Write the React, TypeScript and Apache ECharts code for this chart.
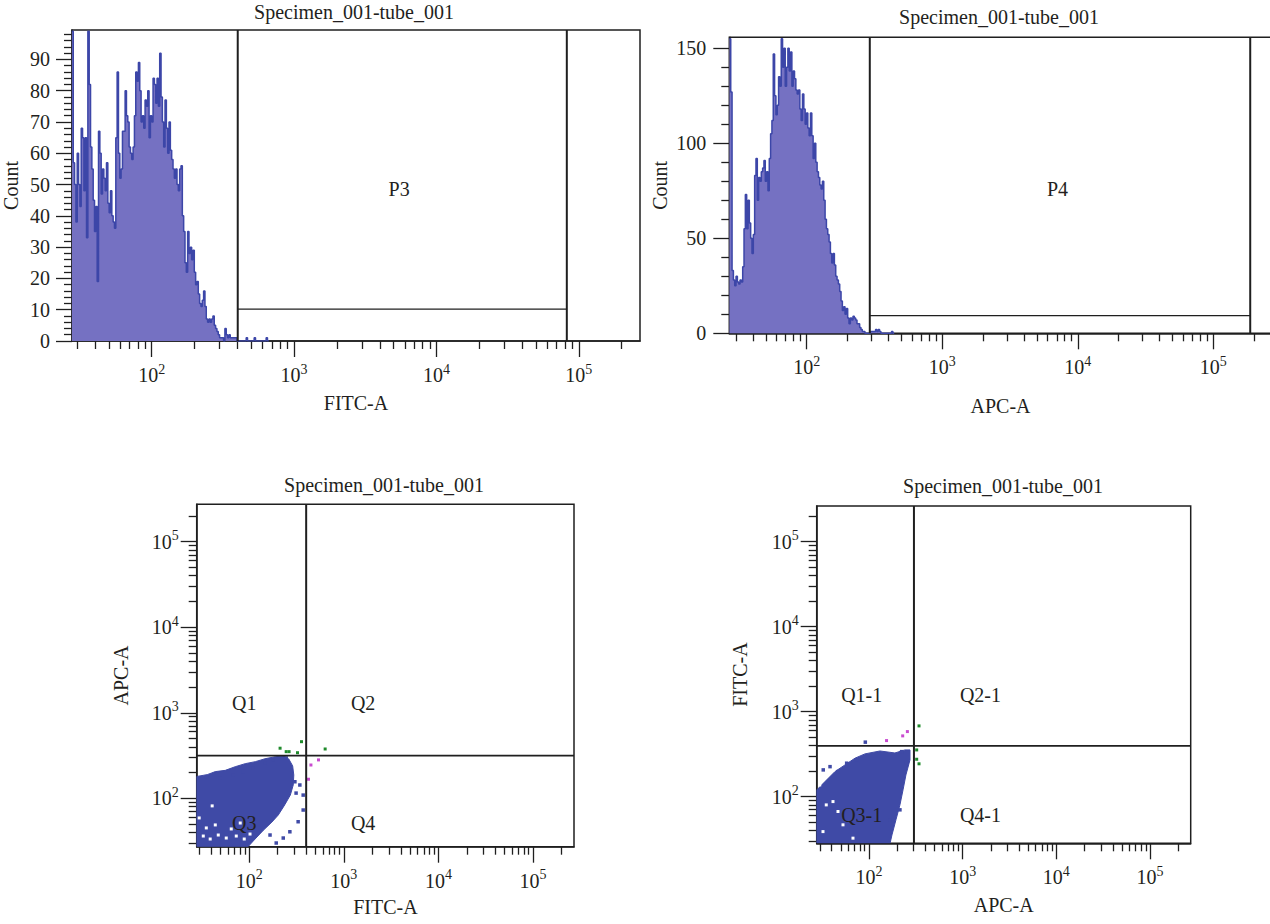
import React, { useEffect, useRef } from "react";
import * as echarts from "echarts";

const FONT = '"Liberation Serif", "Times New Roman", "DejaVu Serif", serif';
const TEXT = "#231f20";
const LINE = "#1f1f1f";
const FILL = "#7571c2";
const EDGE = "#3c46a8";
const DOT = "#3f4aa6";
const GREEN = "#1f8a2b";
const MAGENTA = "#c94bd0";

const panelTitle = "Specimen_001-tube_001";
const fitcName = "FITC-A";
const apcName = "APC-A";
const countName = "Count";

// ---------- histogram data (counts per channel) ----------
const fitcHistFirstChannel = 27.5;
const fitcHistChannelsPerDecade = 107;
const fitcHistCounts = [
  99, 57, 50, 38, 60, 50, 43, 68, 65, 48,
  65, 33, 99, 82, 62, 55, 45, 35, 43, 19,
  67, 60, 47, 55, 52, 48, 57, 44, 41, 48,
  40, 38, 36, 65, 86, 60, 52, 55, 67, 67,
  80, 72, 70, 62, 60, 58, 62, 72, 86, 83,
  89, 80, 70, 72, 68, 77, 75, 80, 65, 72,
  70, 84, 82, 76, 84, 75, 92, 78, 70, 62,
  77, 68, 60, 70, 61, 58, 55, 52, 55, 50,
  48, 55, 56, 40, 35, 25, 22, 35, 28, 30,
  26, 29, 22, 18, 19, 15, 12, 11, 13, 16,
  11, 7, 6, 7, 6, 7, 8, 5, 4, 3,
  2, 1, 1, 1, 0, 4, 2, 1, 2, 1,
  1, 1, 1, 1, 0, 0, 0, 0, 0, 0,
  0, 1, 0, 0, 0, 0, 0, 1, 0, 0,
  0, 0, 0, 0, 0, 0, 1, 0,
];

const apcHistFirstChannel = 26.9;
const apcHistChannelsPerDecade = 102;
const apcHistCounts = [
  155, 127, 33, 28, 25, 30, 27, 26, 28, 27,
  35, 55, 73, 55, 70, 58, 50, 42, 52, 83,
  92, 70, 82, 80, 85, 87, 91, 80, 85, 75,
  92, 105, 112, 147, 125, 115, 120, 135, 130, 155,
  140, 150, 130, 140, 150, 138, 148, 130, 138, 134,
  128, 126, 128, 118, 112, 126, 118, 110, 116, 108,
  104, 116, 104, 92, 100, 90, 85, 82, 78, 76,
  80, 70, 60, 55, 52, 48, 42, 37, 42, 36,
  30, 28, 26, 22, 17, 12, 14, 10, 13, 8,
  5, 8, 7, 9, 8, 7, 5, 5, 3, 2,
  1, 1, 0, 0, 0, 0, 1, 1, 1, 1,
  2, 1, 2, 1, 0, 0, 0, 0, 0, 0,
  0, 0, 1, 0,
];

// gates: [low edge, high edge, count level]
const p3Gate = [402, 82400, 10.2];
const p4Gate = [292, 187000, 9.3];
// gate labels: [text, intensity, count]
const p3Label: [string, number, number] = ["P3", 5470, 48.6];
const p4Label: [string, number, number] = ["P4", 7075, 75.9];

// ---------- dot plot 1: FITC-A (x) vs APC-A (y) ----------
const quadSplitFitcApc = [400, 315];
const fitcApcCore: [number, number][] = [
  [28, 27.3], [97.6, 27.3], [118, 34.3], [142, 42.6], [174, 52.8], [203, 63.8],
  [237, 83.6], [272, 109], [292, 143], [296, 187], [288, 239], [262, 288],
  [232, 312], [188, 306], [147, 290], [116, 268], [90.7, 254], [71.1, 234],
  [55.8, 212], [43.8, 205], [36, 189], [28, 180],
];
const fitcApcSparse: [number, number][] = [
  [372, 109], [343, 143], [304, 156], [372, 72.9], [329, 53.2], [269, 40.6],
  [229, 34.3], [193, 30], [166, 37.2], [179, 281], [147, 259], [110, 226],
  [86.5, 205], [67.8, 187], [49.1, 173], [35.2, 179], [246, 296], [313, 115],
];
const fitcApcGaps: [number, number][] = [
  [32.7, 36.2], [38.7, 33.4], [47.1, 37.2], [57.2, 34.3], [73, 36.2], [88.6, 33.4],
  [102, 38.2], [35.2, 45], [64.6, 43.8], [43.8, 48.8], [29.6, 58.9], [40.6, 81.5],
  [80.4, 51.4],
];
const fitcApcGreen: [number, number][] = [
  [212, 385], [246, 351], [264, 351], [324, 341], [357, 459], [635, 377],
];
const fitcApcMagenta: [number, number][] = [[449, 245], [540, 281], [423, 167]];
const fitcApcQuadLabels: [string, number, number][] = [
  ["Q1", 88.6, 1303], ["Q2", 1600, 1303], ["Q3", 88.6, 51.4], ["Q4", 1600, 51.4],
];

// ---------- dot plot 2: APC-A (x) vs FITC-A (y) ----------
const quadSplitApcFitc = [302, 395];
const apcFitcCore: [number, number][] = [
  [27.8, 28.3], [168, 28.3], [176, 35.4], [194, 53.2], [214, 79.8], [231, 120],
  [248, 180], [274, 270], [274, 354], [242, 354], [189, 326], [131, 344],
  [90.6, 318], [70.9, 283], [55.5, 236], [43.4, 197], [33.9, 150], [27.8, 120],
];
const apcFitcSparse: [number, number][] = [
  [91.4, 437], [38.4, 225], [32.5, 206], [46.7, 197], [74, 270], [57.8, 247],
  [223, 338], [252, 247], [214, 69.8], [168, 53.2],
];
const apcFitcGaps: [number, number][] = [
  [29.8, 137], [41.3, 87.3], [46.7, 66.7], [35, 79.8], [32.3, 38.7], [52.8, 46.5],
  [67.5, 32.4],
];
const apcFitcGreen: [number, number][] = [[342, 679], [323, 354], [323, 275], [342, 243]];
const apcFitcMagenta: [number, number][] = [[154, 456], [229, 518], [257, 582]];
const apcFitcQuadLabels: [string, number, number][] = [
  ["Q1-1", 83.6, 1571], ["Q2-1", 1549, 1571], ["Q3-1", 83.6, 61], ["Q4-1", 1549, 61],
];

// ---------- ticks ----------
const decadeTicks = [2, 3, 4, 5];
const decadeMinorSteps = [2, 3, 4, 5, 6, 7, 8, 9];
const countTicksFitc = [0, 10, 20, 30, 40, 50, 60, 70, 80, 90];
const countTicksApc = [0, 50, 100, 150];

// ---------- layout ----------
const panels = [
  { left: 72, top: 30, width: 568, height: 311, x: [1.44, 5.43], y: [0, 99.4] },
  { left: 729.3, top: 37.3, width: 542.5, height: 296, x: [1.429, 5.431], y: [0, 155.8] },
  { left: 196.7, top: 504.3, width: 377.3, height: 342.4, x: [1.445, 5.433], y: [1.434, 5.437] },
  { left: 816.7, top: 506, width: 374, height: 337.3, x: [1.442, 5.434], y: [1.45, 5.42] },
];
const titlePos = [[354, 12], [999, 17], [384, 485], [1003, 486]];

const lg = (v: number) => Math.log10(v);
const P = (pair: [number, number]) => [lg(pair[0]), lg(pair[1])];

const supRich = {
  b: { fontSize: 20, fontFamily: FONT, color: TEXT, lineHeight: 26 },
  s: { fontSize: 14, fontFamily: FONT, color: TEXT, lineHeight: 12, verticalAlign: "top" },
};
const supFormatter = (v: number) => `{b|10}{s|${Math.round(v)}}`;

function minorLogTicks(range: number[]) {
  const out: number[] = [];
  for (let d = 0; d <= 5; d++) {
    for (const k of decadeMinorSteps) {
      const v = lg(k) + d;
      if (v > range[0] && v < range[1]) out.push(v);
    }
  }
  return out;
}

function minorLinearTicks(majors: number[], step: number, max: number) {
  const out: number[] = [];
  for (let v = step; v < max; v += step) {
    if (!majors.some((m) => Math.abs(m - v) < 1e-6)) out.push(Math.round(v * 1000) / 1000);
  }
  return out;
}

const nameStyle = { fontSize: 20, fontFamily: FONT, color: TEXT };

function axisPair(
  dim: "x" | "y",
  gridIndex: number,
  range: number[],
  log: boolean,
  majors: number[],
  minors: number[],
  name: string,
  nameGap: number,
  labelMargin: number
) {
  const position = dim === "x" ? "bottom" : "left";
  const base = {
    type: "value",
    gridIndex,
    min: range[0],
    max: range[1],
    position,
    splitLine: { show: false },
    minorTick: { show: false },
    minorSplitLine: { show: false },
  };
  const major = {
    ...base,
    name,
    nameLocation: "middle",
    nameGap,
    nameRotate: dim === "y" ? 90 : 0,
    nameMoveOverlap: false,
    nameTextStyle: nameStyle,
    axisLine: { show: true, onZero: false, lineStyle: { color: LINE, width: 1.5 } },
    axisTick: {
      show: true,
      inside: false,
      length: 16,
      customValues: majors,
      lineStyle: { color: LINE, width: 1.3 },
    },
    axisLabel: log
      ? {
          show: true,
          customValues: majors,
          margin: labelMargin,
          formatter: supFormatter,
          rich: supRich,
          hideOverlap: false,
        }
      : {
          show: true,
          customValues: majors,
          margin: labelMargin,
          fontSize: 20,
          fontFamily: FONT,
          color: TEXT,
          hideOverlap: false,
        },
  };
  const minor = {
    ...base,
    axisLine: { show: false, onZero: false },
    axisTick: {
      show: true,
      inside: false,
      length: 8,
      customValues: minors,
      lineStyle: { color: LINE, width: 1.3 },
    },
    axisLabel: { show: false },
  };
  return [major, minor];
}

function histData(first: number, perDecade: number, counts: number[]) {
  const start = lg(first);
  const pts = counts.map((c, i) => [start + i / perDecade, c]);
  pts.push([start + counts.length / perDecade, counts[counts.length - 1]]);
  return pts;
}

function segment(g: number, a: number[], b: number[], width: number) {
  return {
    type: "line",
    xAxisIndex: 2 * g,
    yAxisIndex: 2 * g,
    data: [a, b],
    symbol: "none",
    silent: true,
    lineStyle: { color: LINE, width },
    z: 5,
  };
}

function labelSeries(g: number, items: [string, number, number][], logY: boolean) {
  return {
    type: "custom",
    xAxisIndex: 2 * g,
    yAxisIndex: 2 * g,
    coordinateSystem: "cartesian2d",
    silent: true,
    z: 10,
    data: items.map(([, x, y]) => [lg(x), logY ? lg(y) : y]),
    renderItem: (params: any, api: any) => {
      const it = items[params.dataIndex];
      const pt = api.coord([lg(it[1]), logY ? lg(it[2]) : it[2]]);
      return {
        type: "text",
        x: pt[0],
        y: pt[1],
        style: {
          text: it[0],
          fill: TEXT,
          fontSize: 20,
          fontFamily: FONT,
          align: "center",
          verticalAlign: "middle",
        },
      };
    },
  };
}

function coreSeries(g: number, verts: [number, number][]) {
  return {
    type: "custom",
    xAxisIndex: 2 * g,
    yAxisIndex: 2 * g,
    coordinateSystem: "cartesian2d",
    clip: true,
    silent: true,
    z: 2,
    data: verts.map(P),
    renderItem: (params: any, api: any) => {
      if (params.dataIndex !== 0) return null;
      const pts = verts.map((v) => api.coord(P(v)));
      return {
        type: "polygon",
        shape: { points: pts },
        style: { fill: DOT, stroke: DOT, lineWidth: 1 },
      };
    },
  };
}

function dotSeries(g: number, pts: [number, number][], color: string, size: number, z: number) {
  return {
    type: "scatter",
    xAxisIndex: 2 * g,
    yAxisIndex: 2 * g,
    symbol: "rect",
    symbolSize: size,
    silent: true,
    z,
    itemStyle: { color, opacity: 1 },
    data: pts.map(P),
  };
}

function quadLines(g: number, split: number[]) {
  const pr = panels[g];
  const sx = lg(split[0]);
  const sy = lg(split[1]);
  return [
    segment(g, [sx, pr.y[0]], [sx, pr.y[1]], 2),
    segment(g, [pr.x[0], sy], [pr.x[1], sy], 1.6),
  ];
}

function gateLines(g: number, gate: number[]) {
  const pr = panels[g];
  const lo = lg(gate[0]);
  const hi = lg(gate[1]);
  return [
    segment(g, [lo, 0], [lo, pr.y[1]], 2),
    segment(g, [hi, 0], [hi, pr.y[1]], 2),
    segment(g, [lo, gate[2]], [hi, gate[2]], 1.3),
  ];
}

function buildOption() {
  const xAxes: any[] = [];
  const yAxes: any[] = [];
  const xNames = [fitcName, apcName, fitcName, apcName];
  const yNames = [countName, countName, apcName, fitcName];
  const xGaps = [52, 63, 50, 52];
  const yGaps = [51, 59, 66, 67];
  const yMargins = [22, 23, 18, 18];
  panels.forEach((p, g) => {
    xAxes.push(
      ...axisPair("x", g, p.x, true, decadeTicks, minorLogTicks(p.x), xNames[g], xGaps[g], 21)
    );
    if (g < 2) {
      const majors = g === 0 ? countTicksFitc : countTicksApc;
      const minors = g === 0 ? minorLinearTicks(majors, 2, p.y[1]) : minorLinearTicks(majors, 10, p.y[1]);
      yAxes.push(...axisPair("y", g, p.y, false, majors, minors, yNames[g], yGaps[g], yMargins[g]));
    } else {
      yAxes.push(
        ...axisPair("y", g, p.y, true, decadeTicks, minorLogTicks(p.y), yNames[g], yGaps[g], yMargins[g])
      );
    }
  });

  const histStyle = (g: number, data: number[][]) => ({
    type: "line",
    xAxisIndex: 2 * g,
    yAxisIndex: 2 * g,
    step: "end",
    symbol: "none",
    silent: true,
    z: 2,
    data,
    lineStyle: { color: EDGE, width: 1.5 },
    areaStyle: { color: FILL, opacity: 1 },
  });

  const series: any[] = [
    histStyle(0, histData(fitcHistFirstChannel, fitcHistChannelsPerDecade, fitcHistCounts)),
    ...gateLines(0, p3Gate),
    labelSeries(0, [p3Label], false),
    histStyle(1, histData(apcHistFirstChannel, apcHistChannelsPerDecade, apcHistCounts)),
    ...gateLines(1, p4Gate),
    labelSeries(1, [p4Label], false),

    coreSeries(2, fitcApcCore),
    dotSeries(2, fitcApcSparse, DOT, 3.5, 3),
    dotSeries(2, fitcApcGaps, "#ffffff", 3, 3),
    dotSeries(2, fitcApcGreen, GREEN, 3, 4),
    dotSeries(2, fitcApcMagenta, MAGENTA, 3, 4),
    ...quadLines(2, quadSplitFitcApc),
    labelSeries(2, fitcApcQuadLabels, true),

    coreSeries(3, apcFitcCore),
    dotSeries(3, apcFitcSparse, DOT, 3.5, 3),
    dotSeries(3, apcFitcGaps, "#ffffff", 3, 3),
    dotSeries(3, apcFitcGreen, GREEN, 3, 4),
    dotSeries(3, apcFitcMagenta, MAGENTA, 3, 4),
    ...quadLines(3, quadSplitApcFitc),
    labelSeries(3, apcFitcQuadLabels, true),
  ];

  return {
    animation: false,
    backgroundColor: "#ffffff",
    textStyle: { fontFamily: FONT, color: TEXT },
    grid: panels.map((p) => ({
      left: p.left,
      top: p.top,
      width: p.width,
      height: p.height,
      show: true,
      borderColor: LINE,
      borderWidth: 1.5,
      backgroundColor: "transparent",
      containLabel: false,
      outerBoundsMode: "none",
    })),
    xAxis: xAxes,
    yAxis: yAxes,
    series,
    graphic: titlePos.map(([x, y]) => ({
      type: "text",
      x,
      y,
      silent: true,
      style: {
        text: panelTitle,
        fontSize: 20,
        fontFamily: FONT,
        fill: TEXT,
        align: "center",
        verticalAlign: "middle",
      },
    })),
  };
}

export default function App() {
  const ref = useRef<HTMLDivElement>(null);
  useEffect(() => {
    document.body.style.margin = "0";
    if (!ref.current) return;
    const chart = echarts.init(ref.current, undefined, { renderer: "svg" });
    chart.setOption(buildOption() as any);
    return () => chart.dispose();
  }, []);
  return <div ref={ref} style={{ width: 1270, height: 924, background: "#fff" }} />;
}
